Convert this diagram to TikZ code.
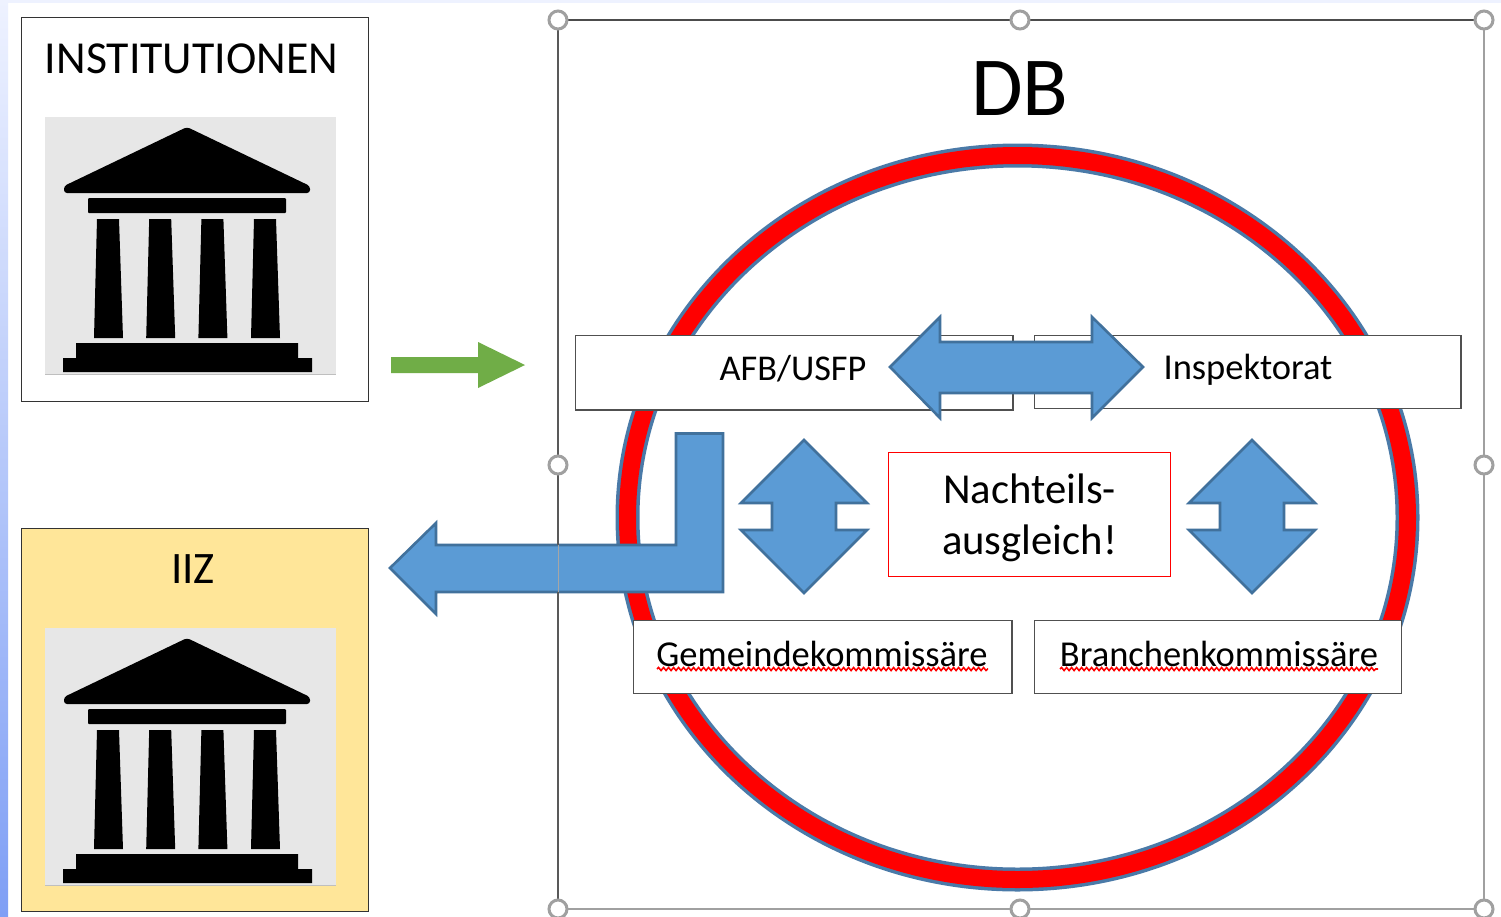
\documentclass[tikz,border=0pt]{standalone}
\usepackage{fontspec}
\setmainfont{Carlito}
\usetikzlibrary{decorations.pathmorphing}
\definecolor{arrowblue}{HTML}{5B9BD5}
\definecolor{arrowedge}{HTML}{41719C}
\definecolor{ringedge}{HTML}{4A7AA8}
\definecolor{boxedge}{HTML}{505050}
\definecolor{iizfill}{HTML}{FFE699}
\definecolor{arrowgreen}{HTML}{70AD47}
\definecolor{iconbg}{HTML}{E7E7E7}
\definecolor{handlegray}{HTML}{A0A0A0}
\definecolor{striptop}{HTML}{EEF2FF}
\definecolor{stripbottom}{HTML}{7F9FF5}
\tikzset{
  panel/.style={draw=black!80,line width=1.4pt,inner sep=0pt},
  labelbox/.style={draw=boxedge,line width=1.6pt,fill=white},
  bluearrow/.style={fill=arrowblue,draw=arrowedge,line width=2.6pt,line join=miter,miter limit=3},
  handle/.style={circle,draw=handlegray,fill=white,line width=3pt,minimum size=18pt,inner sep=0pt},
  squig/.style={draw=red,line width=1.6pt,decorate,decoration={snake,amplitude=1.5pt,segment length=5pt}},
  txt/.style={inner sep=0pt,text=black}
}
\newcommand{\templeicon}[1]{%
\begin{scope}[yshift=-#1pt]
  \fill[iconbg] (44.7,117) rectangle (336,375);
  \fill[black!25] (44.7,373.5) rectangle (336,375);
  \fill[black,rounded corners=3pt] (187,127) -- (64,186) -- (64,193) -- (310,193) -- (310,186) -- cycle;
  \fill[black,rounded corners=1pt] (88,198) rectangle (286,213);
  \foreach \dx in {0,52.2,104.4,157}{
    \fill[black] (97+\dx,219) -- (119+\dx,219) -- (123+\dx,338) -- (94+\dx,338) -- cycle;
  }
  \fill[black] (76,343) -- (298,343) -- (298,358) -- (312,358) -- (312,372) -- (63,372) -- (63,358) -- (76,358) -- cycle;
\end{scope}}
\begin{document}
\begin{tikzpicture}[x=1pt,y=-1pt]
\useasboundingbox (0,0) rectangle (1501,916);
\clip (0,0) rectangle (1501,916);
\fill[white] (0,0) rectangle (1501,916);
\fill[striptop] (0,0) rectangle (1501,3);
\shade[top color=striptop,bottom color=stripbottom] (0,0) rectangle (8,916);

% left panels
\node[panel,fill=white,minimum width=346.5pt,minimum height=384pt,anchor=north west] (inst) at (21,17) {};
\node[txt,font=\fontsize{45.8}{46}\selectfont] (instlabel) at (191.5,59) {INSTITUTIONEN};
\templeicon{0}
\node[panel,fill=iizfill,minimum width=346.5pt,minimum height=383pt,anchor=north west] (iiz) at (21,528) {};
\node[txt,font=\fontsize{45}{45}\selectfont] (iizlabel) at (193,569) {IIZ};
\templeicon{511}

% green arrow
\fill[arrowgreen] (391,357) -- (478,357) -- (478,342) -- (525,365) -- (478,388) -- (478,373) -- (391,373) -- cycle;

% ring
\draw[ringedge,line width=24pt] (1017.5,517.5) ellipse [x radius=390,y radius=362];
\draw[red,line width=17pt] (1017.5,517.5) ellipse [x radius=390,y radius=362];

\node[txt,font=\fontsize{84}{84}\selectfont] (dblabel) at (1020,88.5) {DB};

% label boxes
\node[labelbox,minimum width=437.5pt,minimum height=74.5pt,anchor=north west] (afb) at (574.5,334.5) {};
\node[txt,font=\fontsize{36.3}{36}\selectfont] (afblabel) at (793,369) {AFB/USFP};
\node[labelbox,minimum width=426.5pt,minimum height=73pt,anchor=north west] (insp) at (1033.5,334.5) {};
\node[txt,font=\fontsize{36.5}{36}\selectfont] (insplabel) at (1248,370) {Inspektorat};
\node[labelbox,minimum width=378.5pt,minimum height=73pt,anchor=north west] (gem) at (632.5,619.5) {};
\node[txt,font=\fontsize{36.5}{36}\selectfont] (gemlabel) at (822,654) {Gemeindekommissäre};
\node[labelbox,minimum width=367pt,minimum height=73pt,anchor=north west] (bra) at (1033.5,619.5) {};
\node[txt,font=\fontsize{36.5}{36}\selectfont] (bralabel) at (1219,654) {Branchenkommissäre};
\draw[squig] (657,669) -- (988,669);
\draw[squig] (1060,669) -- (1378,669);

% red box
\node[draw=red,line width=1.6pt,fill=white,minimum width=282pt,minimum height=124pt,anchor=north west] (nach) at (887.5,451.5) {};
\node[txt,font=\fontsize{42.7}{43}\selectfont] (nach1) at (1029.5,489) {Nachteils-};
\node[txt,font=\fontsize{42.7}{43}\selectfont] (nach2) at (1029.5,543.5) {ausgleich!};

% blue arrows
\draw[bluearrow] (890,367) -- (940,317) -- (940,342) -- (1092,342) -- (1092,317) -- (1143,367) -- (1092,418) -- (1092,393) -- (940,393) -- (940,418) -- cycle;
\draw[bluearrow] (676,433.5) -- (723,433.5) -- (723,592) -- (436,592) -- (436,614) -- (390,568) -- (436,523) -- (436,545) -- (676,545) -- cycle;
\draw[bluearrow] (804,440) -- (867,503) -- (836,503) -- (836,530) -- (867,530) -- (804,593) -- (741,530) -- (772,530) -- (772,503) -- (741,503) -- cycle;
\draw[bluearrow] (1252,440) -- (1315,503) -- (1284,503) -- (1284,530) -- (1315,530) -- (1252,593) -- (1189,530) -- (1220,530) -- (1220,503) -- (1189,503) -- cycle;

% selection frame
\coordinate (nw) at (558,20); \coordinate (ne) at (1484,20);
\coordinate (sw) at (558,909); \coordinate (se) at (1484,909);
\draw[black!70,line width=1.6pt] (nw) -- (ne);
\draw[handlegray,line width=1.6pt] (ne) -- (se) -- (sw);
\draw[black!65,line width=1.5pt] (nw) -- (558,545);
\draw[black!35,line width=1pt] (558,545) -- (558,592);
\draw[black!65,line width=1.5pt] (558,592) -- (sw);
\foreach \n/\p in {h1/{(558,20)},h2/{(1020,20)},h3/{(1484,20)},h4/{(558,465)},h5/{(1484,465)},h6/{(558,909)},h7/{(1020,909)},h8/{(1484,909)}}{
  \node[handle] (\n) at \p {};
}
\end{tikzpicture}
\end{document}
